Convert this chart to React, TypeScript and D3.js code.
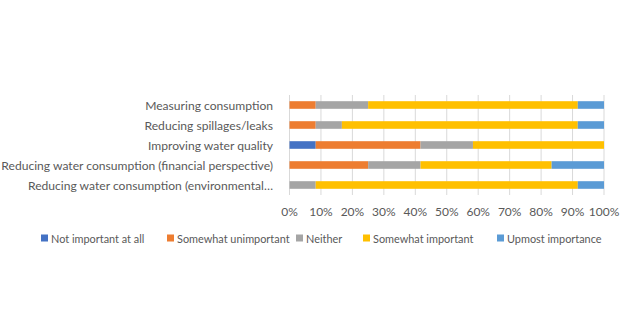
import React from "react";
import * as d3 from "d3";

const categories = [
  "Measuring consumption",
  "Reducing spillages/leaks",
  "Improving water quality",
  "Reducing water consumption (financial perspective)",
  "Reducing water consumption (environmental…",
];
const seriesNames = [
  "Not important at all",
  "Somewhat unimportant",
  "Neither",
  "Somewhat important",
  "Upmost importance",
];
const seriesColors = ["#4472C4", "#ED7D31", "#A5A5A5", "#FFC000", "#5B9BD5"];
// values in % (per category, per series)
const notImportant = [0, 0, 8.33, 0, 0];
const somewhatUnimportant = [8.33, 8.33, 33.33, 25, 0];
const neither = [16.67, 8.33, 16.67, 16.67, 8.33];
const somewhatImportant = [66.67, 75, 41.67, 41.67, 83.34];
const upmost = [8.33, 8.34, 0, 16.66, 8.33];
const tickValues = [0, 10, 20, 30, 40, 50, 60, 70, 80, 90, 100];

const W = 620;
const H = 330;
const FONT = "Lato, 'Open Sans', sans-serif";
const TEXT = "#595959";

export default function App() {
  const series = [notImportant, somewhatUnimportant, neither, somewhatImportant, upmost];
  const x = d3.scaleLinear().domain([0, 100]).range([289.5, 604]);
  const y = d3.scaleBand<string>().domain(categories).range([95, 195]).paddingInner(0.62).paddingOuter(0.31);
  const rows = categories.map((c, i) => {
    const r: any = { cat: c };
    series.forEach((s, j) => (r["s" + j] = s[i]));
    return r;
  });
  const stack = d3.stack<any>().keys(seriesNames.map((_, j) => "s" + j))(rows);
  const legendX = [41, 167, 296, 363, 497];

  return (
    <svg width={W} height={H} style={{ position: "absolute", left: 0, top: 0, background: "#fff" }} fontFamily={FONT}>
      <rect width={W} height={H} fill="#fff" />
      {tickValues.map((t) => (
        <line key={t} x1={x(t)} x2={x(t)} y1={95} y2={195} stroke="#D9D9D9" strokeWidth={1} />
      ))}
      {stack.map((layer, j) =>
        layer.map((d, i) => (
          <rect
            key={j + "-" + i}
            x={x(d[0])}
            width={Math.max(0, x(d[1]) - x(d[0]))}
            y={y(categories[i])!}
            height={y.bandwidth()}
            fill={seriesColors[j]}
          />
        ))
      )}
      {categories.map((c) => (
        <text
          key={c}
          x={273}
          y={y(c)! + y.bandwidth() / 2}
          textAnchor="end"
          dominantBaseline="central"
          fontSize={12.1}
          fill={TEXT}
        >
          {c}
        </text>
      ))}
      {tickValues.map((t) => (
        <text key={t} x={x(t)} y={211} textAnchor="middle" dominantBaseline="central" fontSize={12} fill={TEXT}>
          {t}%
        </text>
      ))}
      {seriesNames.map((n, j) => (
        <g key={n}>
          <rect x={legendX[j]} y={234.5} width={7} height={7} fill={seriesColors[j]} />
          <text x={legendX[j] + 10} y={238} dominantBaseline="central" fontSize={10.9} fill={TEXT}>
            {n}
          </text>
        </g>
      ))}
    </svg>
  );
}
